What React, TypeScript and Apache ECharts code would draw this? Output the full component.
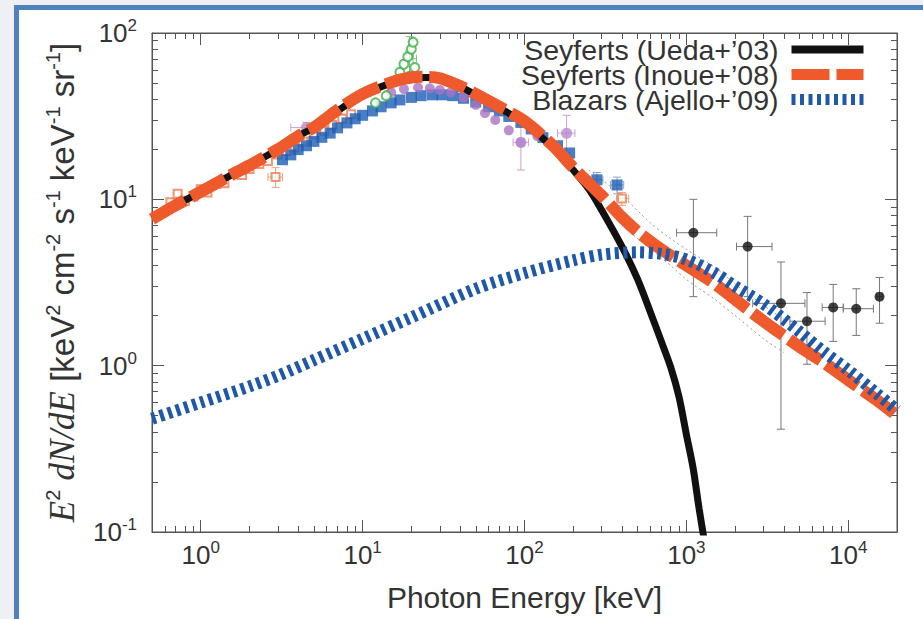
import React, { useEffect, useRef } from "react";
import * as echarts from "echarts";

// ---------- axis ticks ----------
const xMajorTicks = [1, 10, 100, 1000, 10000];
const xMinorTicks = [0.5, 0.6, 0.7, 0.8, 0.9, 2, 3, 4, 5, 6, 7, 8, 9, 20, 30, 40, 50, 60, 70, 80, 90,
  200, 300, 400, 500, 600, 700, 800, 900, 2000, 3000, 4000, 5000, 6000, 7000, 8000, 9000, 20000];
const yMajorTicks = [0.1, 1, 10, 100];
const yMinorTicks = [0.2, 0.3, 0.4, 0.5, 0.6, 0.7, 0.8, 0.9, 2, 3, 4, 5, 6, 7, 8, 9, 20, 30, 40, 50, 60, 70, 80, 90];

// ---------- model curves ----------
const uedaE = [0.5, 0.7, 1, 1.5, 2, 3, 4, 5, 7, 10, 15, 20, 25, 30, 40, 50, 70, 100, 150, 200, 250, 300, 400, 500, 600, 700, 800, 900, 1000, 1100, 1200, 1300];
const uedaF = [7.7, 9.2, 11.1, 13.8, 16.0, 20.0, 24.0, 27.0, 34.0, 42.5, 50.0, 53.5, 54.0, 53.0, 47.5, 42.5, 35.5, 28.5, 20.5, 15.0, 11.5, 8.6, 5.2, 3.3, 2.09, 1.40, 0.98, 0.65, 0.385, 0.243, 0.137, 0.085];

const inoueE = [0.5, 0.7, 1, 1.5, 2, 3, 4, 5, 7, 10, 15, 20, 25, 30, 40, 50, 70, 100, 150, 200, 300, 400, 500, 700, 1000, 1500, 2000, 3000, 5000, 7000, 10000, 15000, 20000];
const inoueF = [7.6, 9.2, 11.1, 13.8, 16.0, 20.0, 24.0, 27.0, 34.5, 43.0, 50.5, 54.0, 54.5, 53.5, 48.0, 43.0, 36.0, 29.5, 21.0, 15.5, 10.5, 7.8, 6.4, 5.0, 4.0, 3.1, 2.5, 1.85, 1.3, 1.05, 0.82, 0.62, 0.5];

const ajelloE = [0.5, 1, 2, 3, 5, 10, 20, 50, 100, 200, 300, 500, 700, 1000, 1500, 2000, 3000, 5000, 7000, 10000, 15000, 20000];
const ajelloF = [0.48, 0.6, 0.75, 0.87, 1.08, 1.45, 1.95, 2.9, 3.6, 4.3, 4.65, 4.8, 4.7, 4.35, 3.6, 3.0, 2.35, 1.6, 1.22, 0.94, 0.68, 0.54];

// thin dotted uncertainty band (upper / lower)
const bandUpE = [250, 400, 600, 800, 1000, 1500, 2000, 3000, 4000];
const bandUpF = [15, 10.5, 7.2, 5.8, 5.0, 3.9, 3.1, 2.3, 1.9];
const bandLoE = [400, 600, 800, 1000, 1500, 2000, 3000, 4000];
const bandLoF = [7.0, 5.0, 4.0, 3.3, 2.5, 2.0, 1.45, 1.2];

// ---------- observational data ----------
// orange open squares
const orangeE = [0.65, 0.72, 0.8, 0.9, 1.0, 1.1, 1.25, 1.4, 1.6, 1.8, 2.0, 2.3, 2.6, 3.0, 3.4, 3.8, 4.3, 5.0, 5.8, 6.5, 7.5, 8.5];
const orangeF = [9.6, 10.8, 9.8, 10.4, 11.5, 11.0, 12.4, 12.5, 14.2, 14.0, 15.2, 16.3, 17.0, 18.6, 19.5, 20.5, 22.3, 24.5, 25.8, 28.0, 30.5, 32.5];
// blue filled squares
const blueE = [3.2, 3.6, 4.0, 4.5, 5.0, 5.6, 6.3, 7.0, 8.0, 9.0, 10, 11.5, 13, 15, 17, 20, 23, 27, 31, 36, 42, 50, 60, 70, 80, 95, 110, 130, 160, 190];
const blueF = [17.3, 18.5, 19.9, 21.0, 22.3, 23.6, 25.0, 26.9, 28.8, 30.5, 32, 34, 36, 38, 39.6, 41, 42, 42.5, 42.5, 42, 40.5, 38.5, 36, 34, 31.5, 29, 26.5, 23.5, 21, 19];
// purple circles
const purpleE = [15, 18, 22, 26, 30, 35, 42, 50, 57, 66, 80, 95, 120];
const purpleF = [44, 46, 47, 46.5, 45.5, 44, 41, 37, 33, 30, 26, 22, 24];
// green open circles
const greenE = [12, 14, 17, 18, 19, 19.5, 20, 20.5, 21];
const greenF = [38, 42, 58, 65, 72, 55, 80, 88, 62];

// points with error bars: [E, F, Elo, Ehi, Flo, Fhi]
const comptelPts = [
  [1105, 6.3, 870, 1540, 2.6, 10],
  [2390, 5.2, 2040, 3380, 2.6, 7.9],
  [3840, 2.37, 2570, 5400, 0.415, 4.2],
  [5560, 1.85, 4360, 7190, 1.02, 2.75],
  [8070, 2.24, 6900, 9310, 1.4, 3.08],
  [11200, 2.2, 9310, 14300, 1.52, 2.9],
  [15600, 2.6, 15000, 16200, 1.8, 3.39],
];
const blueErrPts = [
  [280, 13.1, 255, 305, 11.5, 14.5],
  [373, 12.2, 340, 410, 10.8, 13.6],
];
const purpleErrPts = [
  [182, 25, 160, 205, 19, 32],
  [95, 22, 85, 106, 15, 28],
  [4.5, 27, 3.6, 5.4, 25, 29],
];
const orangeErrPts = [
  [400, 10.1, 370, 440, 9.2, 11.0],
  [2.9, 13.6, 2.6, 3.2, 11.8, 15.5],
];
const greenErrPts = [
  [19.5, 75, 18.5, 20.5, 55, 95],
  [20.5, 70, 19.5, 21.5, 52, 90],
];

const SANS = '"Liberation Sans", Arial, Helvetica, sans-serif';
const SERIF = '"Liberation Serif", "Times New Roman", serif';
const TXT = "#333333";
const AXIS = "#555555";

const C_BLACK = "#111111";
const C_ORANGE = "#ee5a2b";
const C_BLUE = "#1f58a8";

const zip = (a: number[], b: number[]) => a.map((v, i) => [v, b[i]]);

function errSeries(data: number[][], color: string, z: number) {
  return {
    type: "custom",
    z,
    silent: true,
    data,
    encode: { x: 0, y: 1 },
    renderItem: (_p: any, api: any) => {
      const x = api.value(0), y = api.value(1);
      const c = api.coord([x, y]);
      const l = api.coord([api.value(2), y]);
      const r = api.coord([api.value(3), y]);
      const b = api.coord([x, api.value(4)]);
      const t = api.coord([x, api.value(5)]);
      const st = { stroke: color, lineWidth: 1 };
      const cap = 4;
      return {
        type: "group",
        children: [
          { type: "line", shape: { x1: l[0], y1: c[1], x2: r[0], y2: c[1] }, style: st },
          { type: "line", shape: { x1: c[0], y1: t[1], x2: c[0], y2: b[1] }, style: st },
          { type: "line", shape: { x1: l[0], y1: c[1] - cap, x2: l[0], y2: c[1] + cap }, style: st },
          { type: "line", shape: { x1: r[0], y1: c[1] - cap, x2: r[0], y2: c[1] + cap }, style: st },
          { type: "line", shape: { x1: c[0] - cap, y1: t[1], x2: c[0] + cap, y2: t[1] }, style: st },
          { type: "line", shape: { x1: c[0] - cap, y1: b[1], x2: c[0] + cap, y2: b[1] }, style: st },
        ],
      };
    },
  };
}

const powLabel = (v: number) => `{b|10}{s|${Math.round(Math.log10(v))}}`;
const labelRich = {
  b: { fontFamily: SANS, fontSize: 26, color: TXT, lineHeight: 32 },
  s: { fontFamily: SANS, fontSize: 17, color: TXT, lineHeight: 17, verticalAlign: "top" },
};

function logAxis(kind: "x" | "y", pos: string, major: boolean, labels: boolean) {
  const isX = kind === "x";
  return {
    type: "log",
    logBase: 10,
    position: pos,
    min: isX ? 0.5 : 0.1,
    max: isX ? 20000 : 100,
    axisLine: { show: major, onZero: false, lineStyle: { color: AXIS, width: 1 } },
    axisTick: {
      show: true,
      inside: true,
      length: major ? 12 : 6,
      lineStyle: { color: AXIS, width: 1 },
      customValues: major ? (isX ? xMajorTicks : yMajorTicks) : (isX ? xMinorTicks : yMinorTicks),
    },
    axisLabel: labels
      ? {
          show: true,
          customValues: isX ? xMajorTicks : yMajorTicks,
          formatter: powLabel,
          margin: isX ? 7 : 15,
          rich: labelRich,
        }
      : { show: false },
    splitLine: { show: false },
    minorTick: { show: false },
  };
}

const legendItem = (name: string, width: number) => ({
  name,
  lineStyle: { width },
  itemStyle: { opacity: 0, color: "transparent", borderWidth: 0 },
});

export default function App() {
  const ref = useRef<HTMLDivElement>(null);
  useEffect(() => {
    if (!ref.current) return;
    const chart = echarts.init(ref.current, undefined, { renderer: "svg" });
    const option: any = {
      animation: false,
      backgroundColor: "transparent",
      grid: {
        left: 152,
        right: 26,
        top: 33,
        bottom: 87,
        show: true,
        borderColor: AXIS,
        borderWidth: 1,
        backgroundColor: "transparent",
        containLabel: false,
        outerBoundsMode: "none",
      },
      legend: {
        orient: "vertical",
        right: 49,
        top: 30,
        align: "right",
        itemWidth: 72,
        itemHeight: 12,
        itemGap: -4,
        textStyle: { fontFamily: SANS, fontSize: 28.5, color: TXT, lineHeight: 24, padding: [0, 8, 0, 0] },
        data: [
          legendItem("Seyferts (Ueda+’03)", 8),
          legendItem("Seyferts (Inoue+’08)", 11),
          legendItem("Blazars (Ajello+’09)", 11),
        ],
      },
      xAxis: [
        {
          ...logAxis("x", "bottom", true, true),
          name: "Photon Energy [keV]",
          nameLocation: "middle",
          nameGap: 50,
          nameTextStyle: { fontFamily: SANS, fontSize: 30, color: TXT },
        },
        logAxis("x", "bottom", false, false),
        logAxis("x", "top", true, false),
        logAxis("x", "top", false, false),
      ],
      yAxis: [
        {
          ...logAxis("y", "left", true, true),
          name: "{i|E}{sup|2} {i|dN/dE} [keV{sup|2} cm{sup|-2} s{sup|-1} keV{sup|-1} sr{sup|-1}]",
          nameLocation: "middle",
          nameRotate: 90,
          nameGap: 71,
          nameTextStyle: {
            fontFamily: SANS,
            fontSize: 33,
            color: TXT,
            rich: {
              i: { fontFamily: SERIF, fontStyle: "italic", fontSize: 35, color: TXT, lineHeight: 38 },
              sup: { fontFamily: SANS, fontSize: 20, color: TXT, lineHeight: 20, verticalAlign: "top" },
            },
          },
        },
        logAxis("y", "left", false, false),
        logAxis("y", "right", true, false),
        logAxis("y", "right", false, false),
      ],
      series: [
        errSeries(comptelPts, "#777777", 1),
        errSeries(blueErrPts, "#8fa6c8", 1),
        errSeries(purpleErrPts, "#c9a3d6", 1),
        errSeries(orangeErrPts, "#f0a080", 1),
        errSeries(greenErrPts, "#7cc47c", 1),
        {
          type: "line", name: "bandUp", data: zip(bandUpE, bandUpF), symbol: "none", smooth: 0.3, z: 1,
          lineStyle: { color: "#999999", width: 1, type: [2, 3] }, silent: true,
        },
        {
          type: "line", name: "bandLo", data: zip(bandLoE, bandLoF), symbol: "none", smooth: 0.3, z: 1,
          lineStyle: { color: "#999999", width: 1, type: [2, 3] }, silent: true,
        },
        {
          type: "scatter", name: "orangePts", data: zip(orangeE, orangeF), symbol: "emptyRect", symbolSize: 8, z: 2,
          itemStyle: { color: "#f07a50", borderWidth: 1 },
        },
        {
          type: "scatter", name: "orangeErr", data: orangeErrPts.map((p) => [p[0], p[1]]), symbol: "emptyRect", symbolSize: 8, z: 2,
          itemStyle: { color: "#f07a50", borderWidth: 1.5 },
        },
        {
          type: "scatter", name: "bluePts", data: zip(blueE, blueF), symbol: "rect", symbolSize: 11, z: 2,
          itemStyle: { color: "#1b5cb5" },
        },
        {
          type: "scatter", name: "blueErr", data: blueErrPts.map((p) => [p[0], p[1]]), symbol: "rect", symbolSize: 11, z: 2,
          itemStyle: { color: "#1b5cb5" },
        },
        {
          type: "scatter", name: "purplePts", data: zip(purpleE, purpleF), symbol: "circle", symbolSize: 10, z: 2,
          itemStyle: { color: "#a873c4" },
        },
        {
          type: "scatter", name: "purpleErr", data: purpleErrPts.map((p) => [p[0], p[1]]), symbol: "circle", symbolSize: 11, z: 2,
          itemStyle: { color: "#b88ad0" },
        },
        {
          type: "scatter", name: "greenPts", data: zip(greenE, greenF), symbol: "emptyCircle", symbolSize: 9, z: 2,
          itemStyle: { color: "#3fae4a", borderWidth: 1 },
        },
        {
          type: "scatter", name: "comptel", data: comptelPts.map((p) => [p[0], p[1]]), symbol: "circle", symbolSize: 10, z: 6,
          itemStyle: { color: "#111111" },
        },
        {
          type: "line", name: "Seyferts (Ueda+’03)", data: zip(uedaE, uedaF), symbol: "none", smooth: 0.3, z: 3,
          lineStyle: { color: C_BLACK, width: 7 }, itemStyle: { color: C_BLACK },
        },
        {
          type: "line", name: "Seyferts (Inoue+’08)", data: zip(inoueE, inoueF), symbol: "none", smooth: 0.3, z: 4,
          lineStyle: { color: C_ORANGE, width: 12, type: [38, 7] }, itemStyle: { color: C_ORANGE },
        },
        {
          type: "line", name: "Blazars (Ajello+’09)", data: zip(ajelloE, ajelloF), symbol: "none", smooth: 0.3, z: 5,
          lineStyle: { color: C_BLUE, width: 12, type: [4, 4.5] }, itemStyle: { color: C_BLUE },
        },
      ],
    };
    chart.setOption(option);
    return () => chart.dispose();
  }, []);

  return (
    <div style={{ position: "fixed", left: 0, top: 0, width: 923, height: 619, background: "#eef0f3", overflow: "hidden" }}>
      <div
        style={{
          position: "absolute",
          left: 14,
          top: 5,
          width: 1000,
          height: 700,
          border: "5px solid #4f81bd",
          background: "#ffffff",
        }}
      />
      <div ref={ref} style={{ position: "absolute", left: 0, top: 0, width: 923, height: 619 }} />
    </div>
  );
}
